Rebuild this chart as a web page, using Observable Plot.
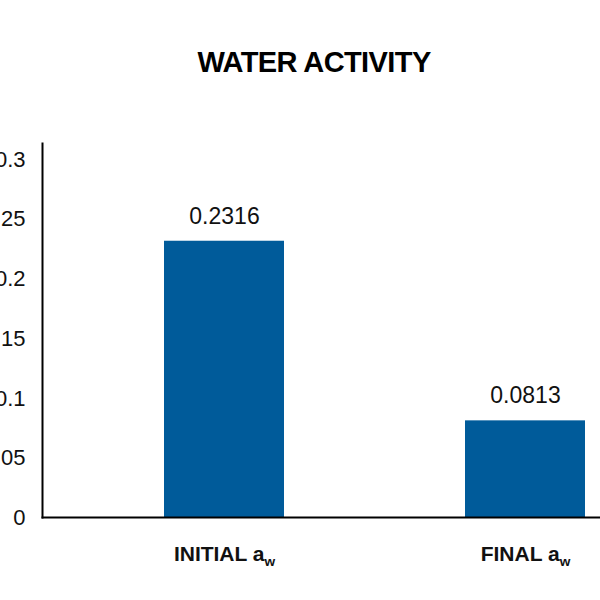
<!DOCTYPE html>
<html>
<head>
<meta charset="utf-8">
<script src="https://cdn.jsdelivr.net/npm/d3@7"></script>
<script src="https://cdn.jsdelivr.net/npm/@observablehq/plot@0.6"></script>
<style>
  html, body { margin: 0; padding: 0; background: #fff; }
  #chart svg { display: block; overflow: visible; }
</style>
</head>
<body>
<div id="chart"></div>
<script>
const categories = ["INITIAL a_w", "FINAL a_w"];
const values = [0.2316, 0.0813];
const valueLabels = ["0.2316", "0.0813"];
const yTicks = [0, 0.05, 0.1, 0.15, 0.2, 0.25, 0.3];
const title = "WATER ACTIVITY";

const data = categories.map((c, i) => ({category: c, value: values[i], label: valueLabels[i]}));
const font = "'Liberation Sans', Arial, sans-serif";

const plot = Plot.plot({
  width: 600,
  height: 600,
  marginTop: 143,
  marginBottom: 83,
  marginLeft: 42,
  marginRight: 0,
  style: {fontFamily: font, color: "#000", background: "#fff"},
  x: {domain: categories, range: [73.5, 675.5], paddingInner: 0.6, paddingOuter: 0.3, axis: null},
  y: {domain: [0, 0.3], range: [517.5, 159], axis: null},
  marks: [
    Plot.barY(data, {x: "category", y: "value", fill: "#005B9A"}),
    Plot.text(data, {x: "category", y: "value", text: "label", dy: -25, lineAnchor: "middle", fontSize: 23, fill: "#111"}),
    Plot.axisY({ticks: yTicks, tickFormat: d => String(d), tickSize: 0, tickPadding: 17, fontSize: 22, fill: "#111", label: null}),
    Plot.axisX({tickSize: 0, tickPadding: 29, fontSize: 21, fontWeight: "bold", fill: "#111", label: null}),
    Plot.frame({anchor: "left", stroke: "#000", strokeWidth: 2}),
    Plot.frame({anchor: "bottom", stroke: "#000", strokeWidth: 2}),
    Plot.text([title], {frameAnchor: "top", lineAnchor: "middle", dx: -7.5, dy: -81, fontSize: 29, fontWeight: "bold", fill: "#000"})
  ]
});

// subscript "w" in the x tick labels
plot.querySelectorAll('g[aria-label="x-axis tick label"] text').forEach(t => {
  const s = t.textContent;
  const idx = s.indexOf("_");
  if (idx >= 0) {
    t.textContent = s.slice(0, idx);
    const sub = document.createElementNS("http://www.w3.org/2000/svg", "tspan");
    sub.setAttribute("font-size", "0.65em");
    sub.setAttribute("dy", "0.3em");
    sub.textContent = s.slice(idx + 1);
    t.appendChild(sub);
  }
});
// tighten title tracking
plot.querySelectorAll('text').forEach(t => {
  if (t.textContent === title) t.setAttribute("letter-spacing", "-0.6");
});

document.getElementById("chart").appendChild(plot);
</script>
</body>
</html>
